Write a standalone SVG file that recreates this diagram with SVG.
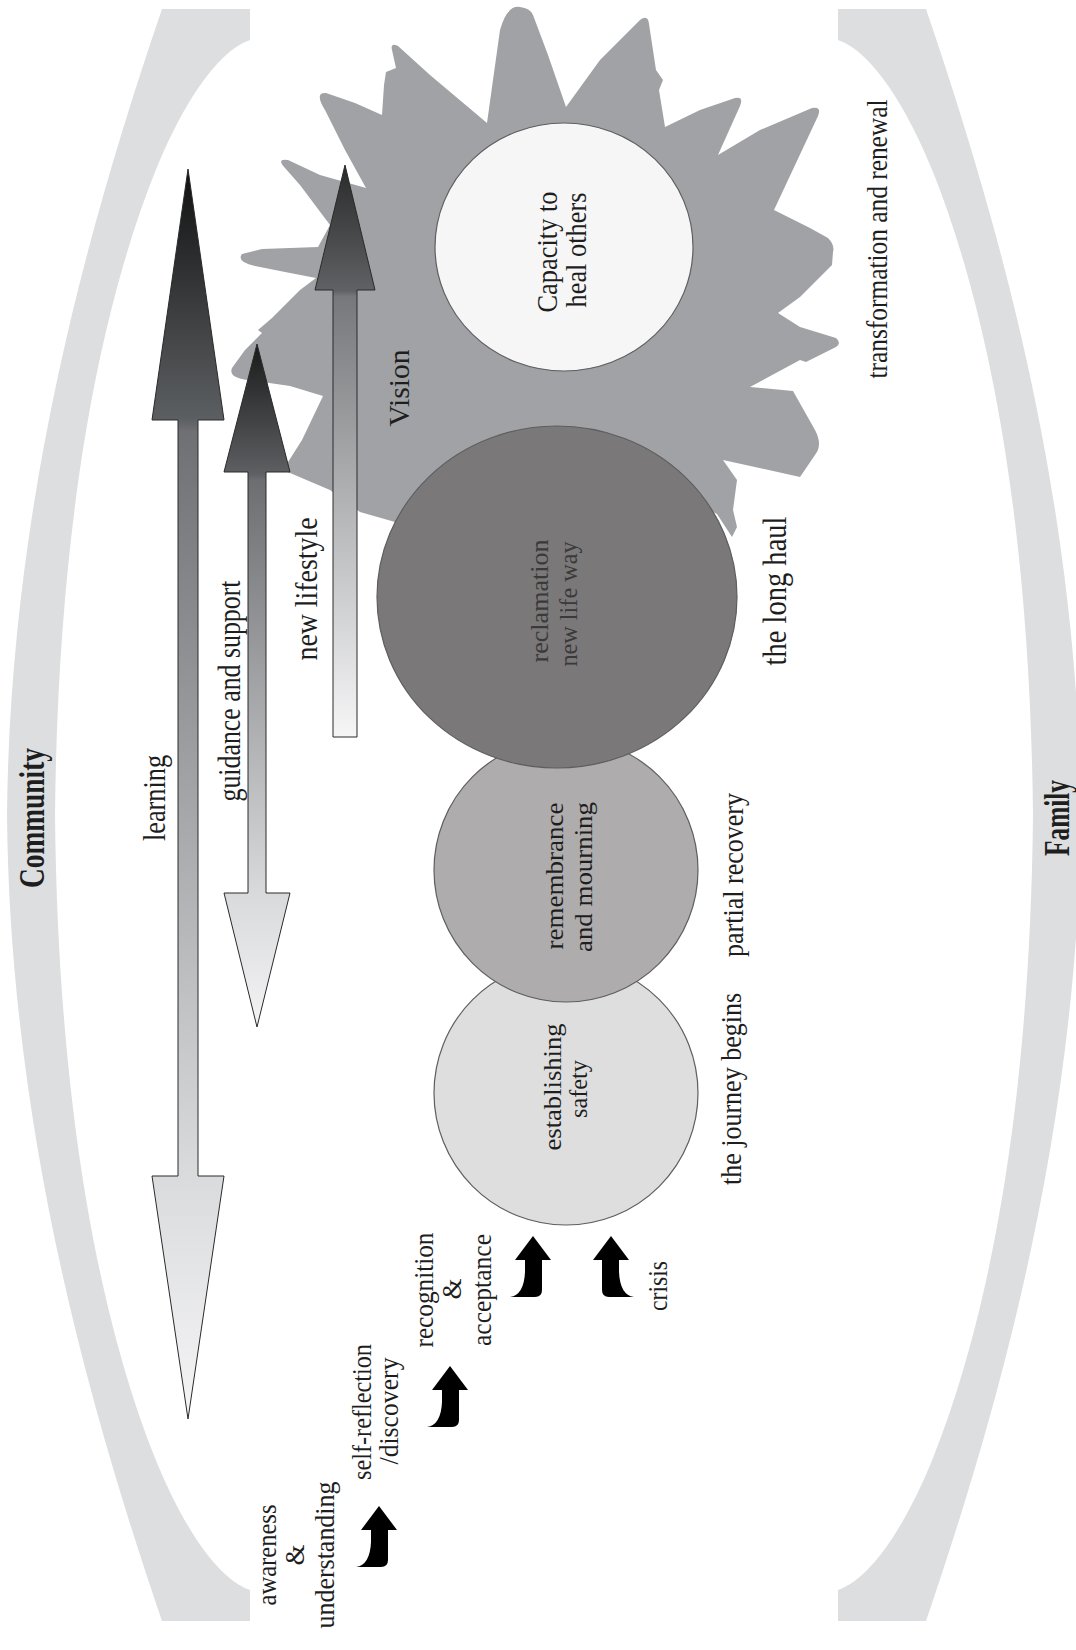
<svg xmlns="http://www.w3.org/2000/svg" width="1076" height="1650" viewBox="0 0 1076 1650">
<style>
.t{font-family:"Liberation Serif","DejaVu Serif",serif;font-size:30px;fill:#1e1e1e;text-anchor:middle}
.s{font-size:27px}
.c{font-size:26px}
.b{font-weight:bold;font-size:36px}
.band{fill:#dcdee0}
.circ{stroke:#5e5e5e;stroke-width:1.2}
.arr{stroke:#2a2a2a;stroke-width:1}
.blk{fill:#000}
</style>
<defs>
<path id="bracket" d="M162,9 C90,220 10,500 7,815 C10,1130 90,1410 162,1621 L250,1621 L250,1590 C215,1578 180,1520 155,1458 C100,1320 58,1110 55,815 C58,520 100,310 155,172 C180,110 215,52 250,40 L250,9 Z"/>
<path id="footL" d="M0,0 L18,24 L9,24 L9,54 Q9,61 2,61 L-23,61 Q-9,59 -8,36 L-8,24 L-18,24 Z"/>
<path id="footR" d="M0,0 L-18,24 L-9,24 L-9,54 Q-9,61 -2,61 L23,61 Q9,59 8,36 L8,24 L18,24 Z"/>
<linearGradient id="gLearn" gradientUnits="userSpaceOnUse" x1="0" y1="169" x2="0" y2="1419">
<stop offset="0" stop-color="#111"/><stop offset="0.2" stop-color="#5c5f62"/><stop offset="0.21" stop-color="#6e7073"/><stop offset="0.8" stop-color="#d9dadc"/><stop offset="1" stop-color="#f5f5f6"/>
</linearGradient>
<linearGradient id="gGuide" gradientUnits="userSpaceOnUse" x1="0" y1="344" x2="0" y2="1027">
<stop offset="0" stop-color="#1a1a1a"/><stop offset="0.19" stop-color="#5d5f62"/><stop offset="0.2" stop-color="#6c6e71"/><stop offset="0.8" stop-color="#d8d9db"/><stop offset="1" stop-color="#f3f3f4"/>
</linearGradient>
<linearGradient id="gLife" gradientUnits="userSpaceOnUse" x1="0" y1="165" x2="0" y2="737">
<stop offset="0" stop-color="#2a2a2a"/><stop offset="0.22" stop-color="#5f6164"/><stop offset="0.23" stop-color="#76787b"/><stop offset="1" stop-color="#f6f6f7"/>
</linearGradient>
</defs>
<rect width="1076" height="1650" fill="#fff"/>

<g id="community">
<use href="#bracket" class="band"/>
<text class="t b" transform="translate(44,818) rotate(-90)" textLength="140" lengthAdjust="spacingAndGlyphs">Community</text>
</g>
<g id="family">
<use href="#bracket" class="band" transform="translate(1088,0) scale(-1,1)"/>
<text class="t b" transform="translate(1069,818) rotate(-90)" textLength="76" lengthAdjust="spacingAndGlyphs">Family</text>
</g>

<g id="vision-star">
<path fill="#a0a2a5" d="M283,470 L302,440 L323,396 L290,386 L248,380 Q228,378 232,368 L245,350 L262,333 L258,330 L272,318 L300,290 L316,278 L285,272 L255,266 Q236,262 242,254 L262,249 L318,247 L330,225 L300,185 L285,168 Q276,158 288,160 L320,175 L366,188 L345,150 L325,110 Q314,92 326,93 L355,103 L382,115 L384,85 L386,72 L396,68 L392,50 Q390,42 398,46 L430,75 L487,123 L493,80 L500,30 Q507,5 520,7 Q530,8 533,15 L548,55 L566,107 L600,60 L640,20 Q648,14 649,24 L656,70 L663,80 L659,90 L665,127 L700,110 L735,98 Q744,96 740,106 L718,155 L760,130 L812,108 Q822,106 818,116 L774,210 L810,228 L828,238 Q835,245 833,252 L832,265 L800,297 L778,313 L800,327 L836,338 Q842,343 836,347 L806,362 L800,360 L750,387 L793,391 L815,430 Q823,445 815,455 L800,477 L723,460 L737,480 L733,510 L737,527 L732,537 L717,514 L690,500 L560,470 L430,510 L395,522 L360,512 L330,490 Z"/>
<text class="t" transform="translate(409,388) rotate(-90)" textLength="77" lengthAdjust="spacingAndGlyphs">Vision</text>
</g>

<g id="establishing-safety">
<circle class="circ" cx="566" cy="1093" r="132" fill="#dfdede"/>
<text class="t c" transform="translate(561,1087) rotate(-90)" textLength="127" lengthAdjust="spacingAndGlyphs">establishing</text>
<text class="t c" transform="translate(587,1089) rotate(-90)" textLength="58" lengthAdjust="spacingAndGlyphs">safety</text>
</g>
<g id="remembrance">
<circle class="circ" cx="566" cy="870" r="132" fill="#aeacac"/>
<text class="t c" transform="translate(563,876) rotate(-90)" textLength="147" lengthAdjust="spacingAndGlyphs">remembrance</text>
<text class="t c" transform="translate(592,877) rotate(-90)" textLength="150" lengthAdjust="spacingAndGlyphs">and mourning</text>
</g>
<g id="reclamation">
<ellipse class="circ" cx="557" cy="597" rx="180" ry="171" fill="#7a7879"/>
<text class="t" style="font-size:25px;fill:#3a3a3a" transform="translate(548,601) rotate(-90)" textLength="123" lengthAdjust="spacingAndGlyphs">reclamation</text>
<text class="t" style="font-size:25px;fill:#3a3a3a" transform="translate(577,604) rotate(-90)" textLength="125" lengthAdjust="spacingAndGlyphs">new life way</text>
</g>
<g id="capacity">
<ellipse class="circ" cx="564" cy="247" rx="129" ry="124" fill="#f6f6f6"/>
<text class="t" transform="translate(557,252) rotate(-90)" textLength="121" lengthAdjust="spacingAndGlyphs">Capacity to</text>
<text class="t" transform="translate(586,250) rotate(-90)" textLength="115" lengthAdjust="spacingAndGlyphs">heal others</text>
</g>

<g id="connectors">
<path class="arr" fill="url(#gLearn)" d="M188,169 L224,420 L198,420 L198,1176 L224,1176 L188,1419 L152,1176 L178,1176 L178,420 L152,420 Z"/>
<path class="arr" fill="url(#gGuide)" d="M257,344 L290,472 L266,472 L266,893 L290,893 L257,1027 L224,893 L248,893 L248,472 L224,472 Z"/>
<path class="arr" fill="url(#gLife)" d="M345,165 L375,290 L357,290 L357,737 L333,737 L333,290 L315,290 Z"/>
<use href="#footL" class="blk" x="379" y="1506"/>
<use href="#footL" class="blk" x="450" y="1366"/>
<use href="#footL" class="blk" x="533" y="1236"/>
<use href="#footR" class="blk" x="611" y="1236"/>
</g>

<g id="labels">
<text class="t" style="font-size:32px" transform="translate(165,798) rotate(-90)" textLength="86" lengthAdjust="spacingAndGlyphs">learning</text>
<text class="t" style="font-size:31px" transform="translate(240,691) rotate(-90)" textLength="221" lengthAdjust="spacingAndGlyphs">guidance and support</text>
<text class="t" style="font-size:31px" transform="translate(317,589) rotate(-90)" textLength="143" lengthAdjust="spacingAndGlyphs">new lifestyle</text>
<text class="t" transform="translate(887,239) rotate(-90)" textLength="279" lengthAdjust="spacingAndGlyphs">transformation and renewal</text>
<text class="t" style="font-size:33px" transform="translate(786,591) rotate(-90)" textLength="149" lengthAdjust="spacingAndGlyphs">the long haul</text>
<text class="t" transform="translate(743,875) rotate(-90)" textLength="164" lengthAdjust="spacingAndGlyphs">partial recovery</text>
<text class="t" transform="translate(741,1089) rotate(-90)" textLength="192" lengthAdjust="spacingAndGlyphs">the journey begins</text>
<text class="t s" transform="translate(667,1286) rotate(-90)" textLength="50" lengthAdjust="spacingAndGlyphs">crisis</text>
<text class="t s" transform="translate(433,1290) rotate(-90)" textLength="115" lengthAdjust="spacingAndGlyphs">recognition</text>
<text class="t s" transform="translate(461,1289) rotate(-90)">&amp;</text>
<text class="t s" transform="translate(491,1290) rotate(-90)" textLength="112" lengthAdjust="spacingAndGlyphs">acceptance</text>
<text class="t s" transform="translate(371,1412) rotate(-90)" textLength="136" lengthAdjust="spacingAndGlyphs">self-reflection</text>
<text class="t s" transform="translate(398,1411) rotate(-90)" textLength="107" lengthAdjust="spacingAndGlyphs">/discovery</text>
<text class="t s" transform="translate(276,1555) rotate(-90)" textLength="101" lengthAdjust="spacingAndGlyphs">awareness</text>
<text class="t s" transform="translate(304,1555) rotate(-90)">&amp;</text>
<text class="t s" transform="translate(334,1555) rotate(-90)" textLength="147" lengthAdjust="spacingAndGlyphs">understanding</text>
</g>
</svg>
